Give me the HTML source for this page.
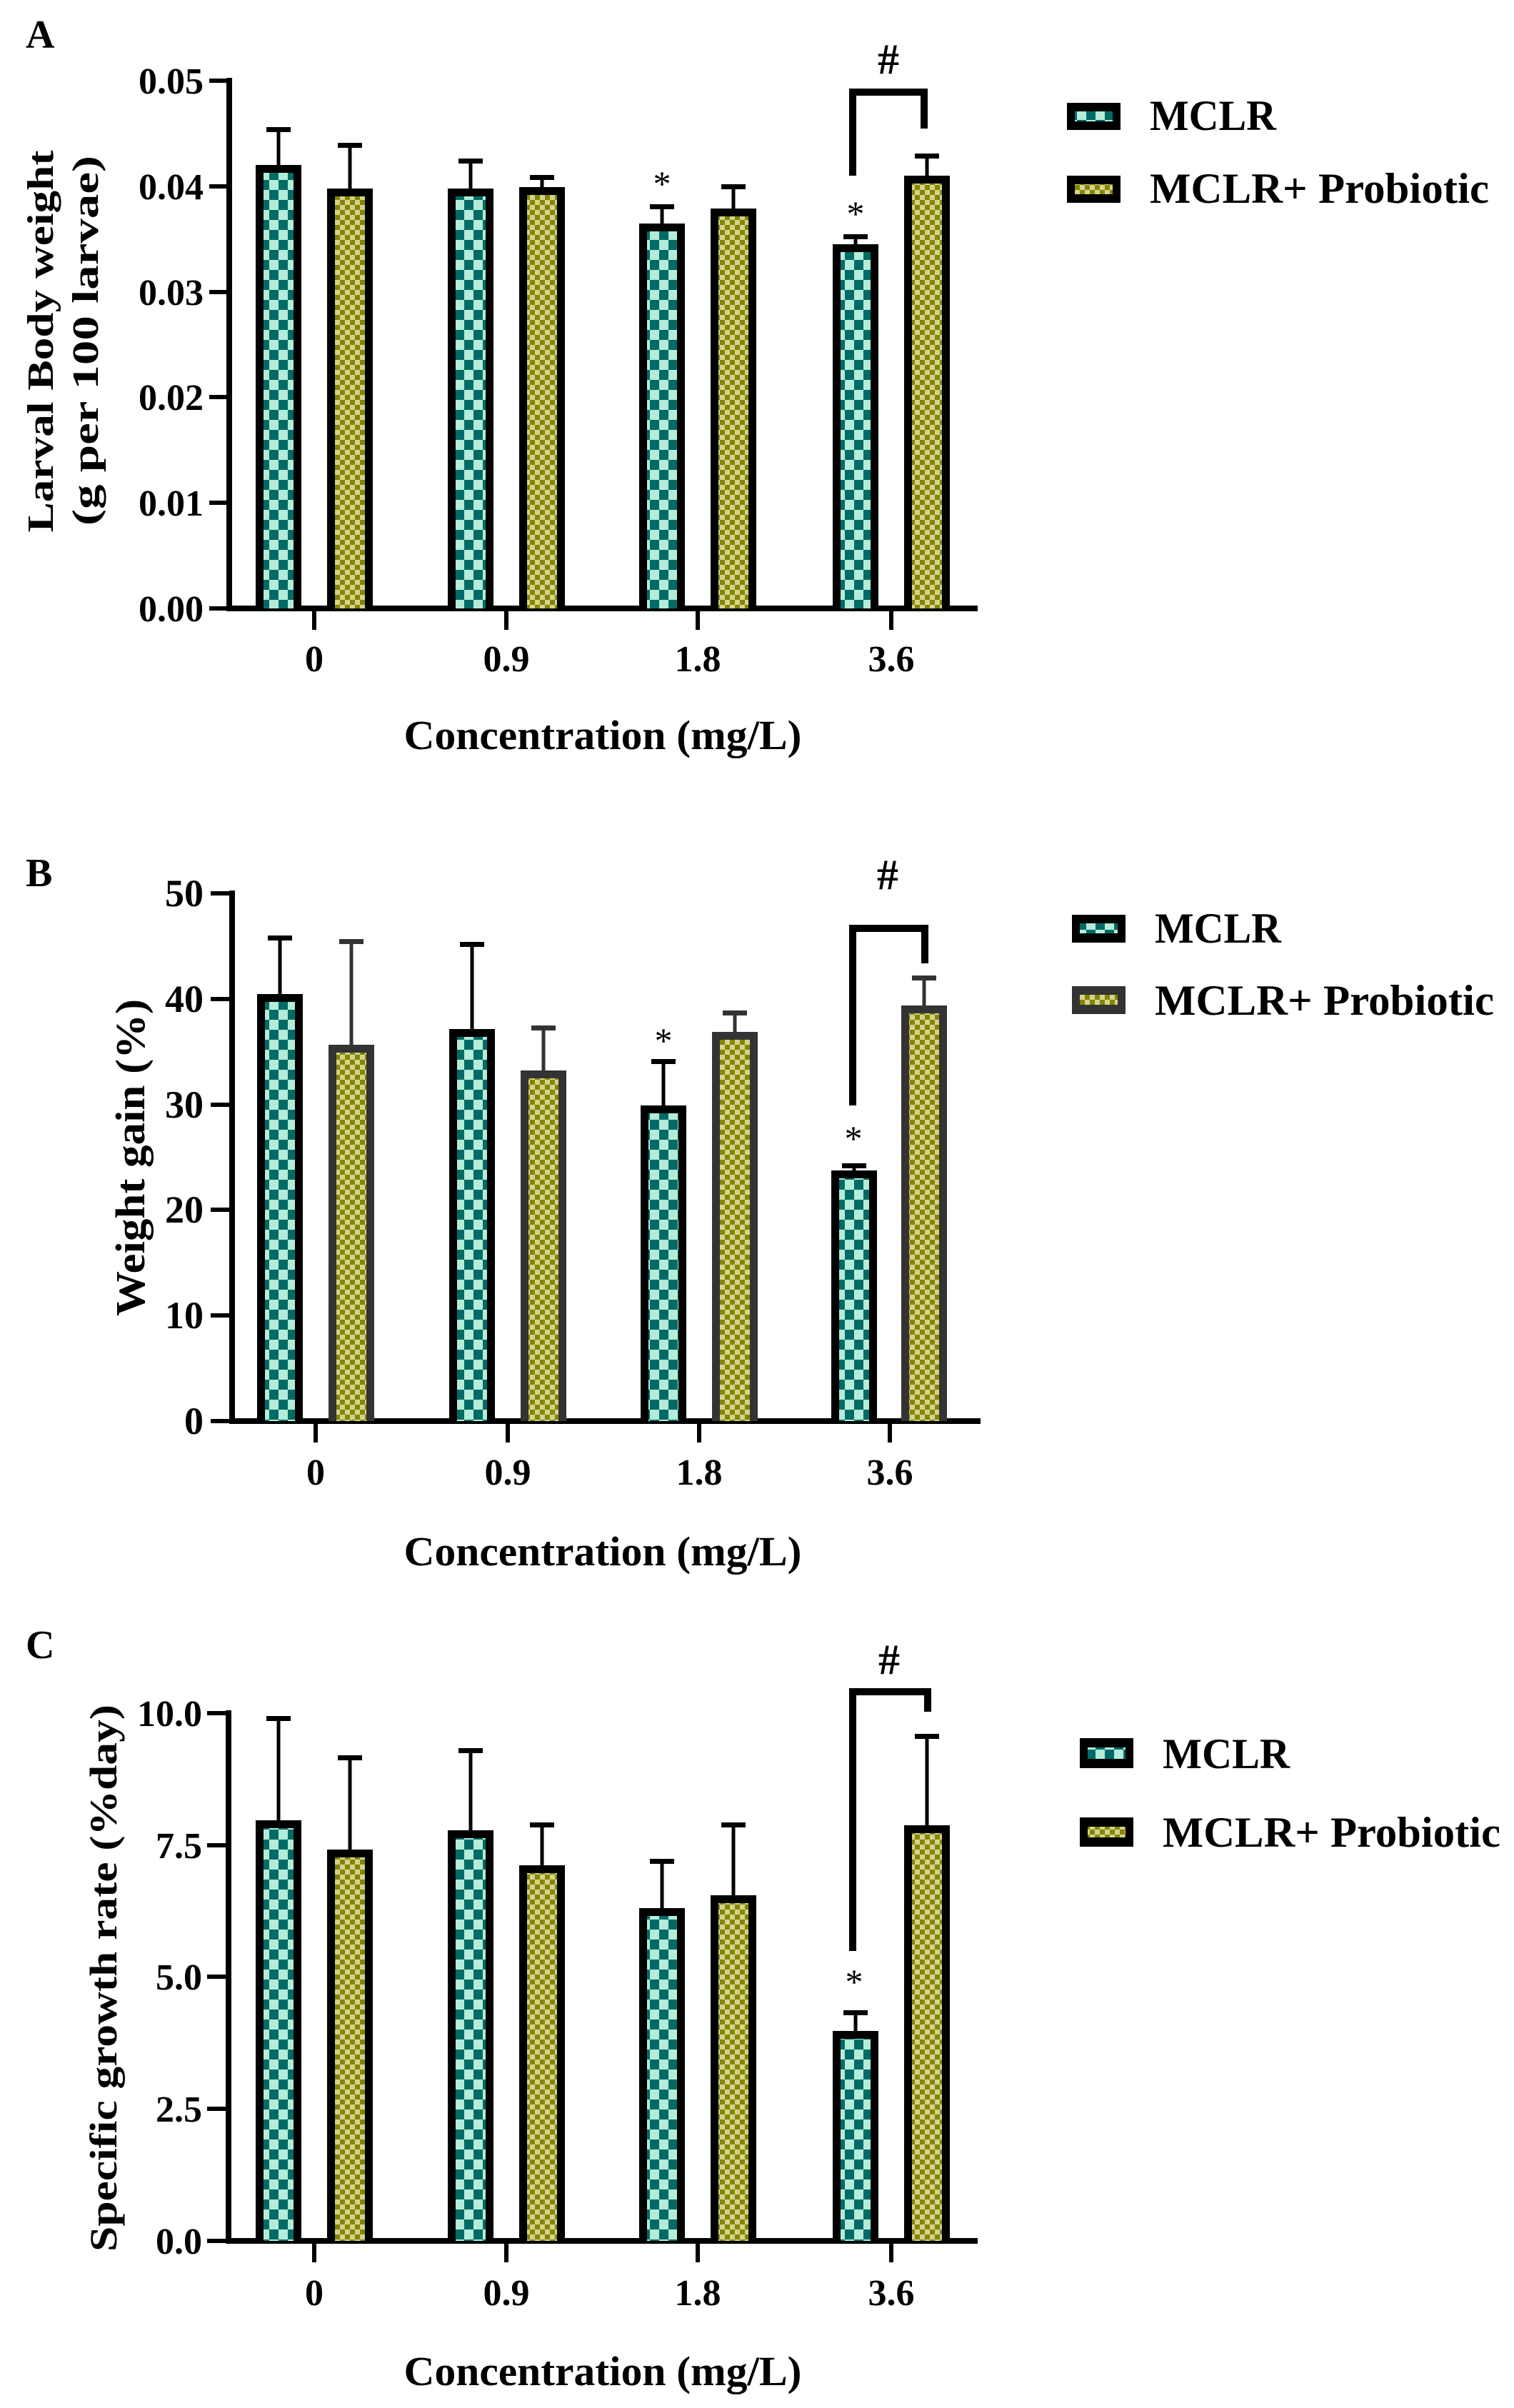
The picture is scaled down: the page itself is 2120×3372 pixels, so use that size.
<!DOCTYPE html>
<html><head><meta charset="utf-8"><style>html,body{margin:0;padding:0;background:#fff}svg{display:block}</style></head>
<body>
<svg xmlns="http://www.w3.org/2000/svg" width="2120" height="3372" viewBox="0 0 2120 3372" font-family="'Liberation Serif', serif" font-weight="bold">
<defs>
<pattern id="pm" patternUnits="userSpaceOnUse" width="26" height="28"><rect width="26" height="28" fill="#b4ebd9"/><rect width="13" height="14" fill="#006b66"/><rect x="13" y="14" width="13" height="14" fill="#006b66"/></pattern>
<pattern id="pp" patternUnits="userSpaceOnUse" width="14" height="14"><rect width="14" height="14" fill="#d3d38f"/><rect width="7" height="7" fill="#858500"/><rect x="7" y="7" width="7" height="7" fill="#858500"/></pattern>
</defs>
<rect width="2120" height="3372" fill="#fff"/>

<!-- ================= PANEL A ================= -->
<text x="36" y="67" font-size="56">A</text>
<g stroke="#000" stroke-width="8" fill="none">
<line x1="321" y1="109" x2="321" y2="856"/>
<line x1="317" y1="852" x2="1369" y2="852"/>
</g>
<g stroke="#000" stroke-width="6">
<line x1="293" y1="852" x2="321" y2="852"/><line x1="293" y1="704" x2="321" y2="704"/><line x1="293" y1="556" x2="321" y2="556"/><line x1="293" y1="409" x2="321" y2="409"/><line x1="293" y1="261" x2="321" y2="261"/><line x1="293" y1="113" x2="321" y2="113"/>
<line x1="440" y1="852" x2="440" y2="882"/><line x1="709" y1="852" x2="709" y2="882"/><line x1="977" y1="852" x2="977" y2="882"/><line x1="1248" y1="852" x2="1248" y2="882"/>
</g>
<g font-size="52" text-anchor="end">
<text x="285" y="870">0.00</text><text x="285" y="722">0.01</text><text x="285" y="574">0.02</text><text x="285" y="427">0.03</text><text x="285" y="279">0.04</text><text x="285" y="131">0.05</text>
</g>
<g font-size="52" text-anchor="middle">
<text x="440" y="940">0</text><text x="709" y="940">0.9</text><text x="977" y="940">1.8</text><text x="1248" y="940">3.6</text>
</g>
<text x="844" y="1049" font-size="58" text-anchor="middle" textLength="557" lengthAdjust="spacingAndGlyphs">Concentration (mg/L)</text>
<text transform="translate(74,478) rotate(-90)" font-size="52" text-anchor="middle" textLength="535" lengthAdjust="spacingAndGlyphs">Larval Body weight</text>
<text transform="translate(137,477) rotate(-90)" font-size="52" text-anchor="middle" textLength="518" lengthAdjust="spacingAndGlyphs">(g per 100 larvae)</text>
<!-- bars A -->
<g>
<rect x="358" y="231" width="64" height="621" fill="#000"/><rect x="369" y="242" width="42" height="610" fill="url(#pm)"/>
<rect x="627" y="264" width="64" height="588" fill="#000"/><rect x="638" y="275" width="42" height="577" fill="url(#pm)"/>
<rect x="895" y="313" width="64" height="539" fill="#000"/><rect x="906" y="324" width="42" height="528" fill="url(#pm)"/>
<rect x="1166" y="342" width="64" height="510" fill="#000"/><rect x="1177" y="353" width="42" height="499" fill="url(#pm)"/>
<rect x="458" y="264" width="64" height="588" fill="#000"/><rect x="469" y="275" width="42" height="577" fill="url(#pp)"/>
<rect x="727" y="262" width="64" height="590" fill="#000"/><rect x="738" y="273" width="42" height="579" fill="url(#pp)"/>
<rect x="995" y="292" width="64" height="560" fill="#000"/><rect x="1006" y="303" width="42" height="549" fill="url(#pp)"/>
<rect x="1266" y="246" width="64" height="606" fill="#000"/><rect x="1277" y="257" width="42" height="595" fill="url(#pp)"/>
</g>
<g stroke="#000" stroke-width="5">
<line x1="390" y1="181" x2="390" y2="231"/><line x1="659" y1="225" x2="659" y2="264"/><line x1="927" y1="289" x2="927" y2="313"/><line x1="1198" y1="331" x2="1198" y2="342"/>
<line x1="490" y1="203" x2="490" y2="264"/><line x1="759" y1="248" x2="759" y2="262"/><line x1="1027" y1="261" x2="1027" y2="292"/><line x1="1298" y1="218" x2="1298" y2="246"/>
</g>
<g fill="#000">
<rect x="373" y="178" width="34" height="7"/><rect x="642" y="222" width="34" height="7"/><rect x="910" y="286" width="34" height="7"/><rect x="1181" y="328" width="34" height="7"/>
<rect x="473" y="200" width="34" height="7"/><rect x="742" y="245" width="34" height="7"/><rect x="1010" y="258" width="34" height="7"/><rect x="1281" y="215" width="34" height="7"/>
</g>
<path d="M1194 246 V129 H1294 V180" stroke="#000" stroke-width="10" fill="none"/>
<text x="1244" y="103" font-size="60" text-anchor="middle">#</text>
<g font-size="50" font-weight="normal" text-anchor="middle"><text x="927" y="274">*</text><text x="1198" y="316">*</text></g>
<!-- legend A -->
<rect x="1494" y="144" width="75" height="38" fill="#000"/><rect x="1505" y="156" width="53" height="14" fill="url(#pm)"/>
<rect x="1494" y="246" width="75" height="38" fill="#000"/><rect x="1505" y="258" width="53" height="14" fill="url(#pp)"/>
<g font-size="60"><text x="1610" y="182" textLength="177" lengthAdjust="spacingAndGlyphs">MCLR</text><text x="1610" y="284" textLength="475" lengthAdjust="spacingAndGlyphs">MCLR+ Probiotic</text></g>

<!-- ================= PANEL B ================= -->
<text x="36" y="1241" font-size="56">B</text>
<g stroke="#000" stroke-width="8" fill="none">
<line x1="325" y1="1247" x2="325" y2="1994"/>
<line x1="321" y1="1990" x2="1373" y2="1990"/>
</g>
<g stroke="#000" stroke-width="6">
<line x1="295" y1="1990" x2="325" y2="1990"/><line x1="295" y1="1842" x2="325" y2="1842"/><line x1="295" y1="1694" x2="325" y2="1694"/><line x1="295" y1="1547" x2="325" y2="1547"/><line x1="295" y1="1399" x2="325" y2="1399"/><line x1="295" y1="1251" x2="325" y2="1251"/>
<line x1="442" y1="1990" x2="442" y2="2020"/><line x1="711" y1="1990" x2="711" y2="2020"/><line x1="979" y1="1990" x2="979" y2="2020"/><line x1="1246" y1="1990" x2="1246" y2="2020"/>
</g>
<g font-size="54" text-anchor="end">
<text x="285" y="2008">0</text><text x="285" y="1860">10</text><text x="285" y="1712">20</text><text x="285" y="1565">30</text><text x="285" y="1417">40</text><text x="285" y="1269">50</text>
</g>
<g font-size="52" text-anchor="middle">
<text x="442" y="2079">0</text><text x="711" y="2079">0.9</text><text x="979" y="2079">1.8</text><text x="1246" y="2079">3.6</text>
</g>
<text x="844" y="2192" font-size="58" text-anchor="middle" textLength="557" lengthAdjust="spacingAndGlyphs">Concentration (mg/L)</text>
<text transform="translate(202,1621) rotate(-90)" font-size="58" text-anchor="middle" textLength="444" lengthAdjust="spacingAndGlyphs">Weight gain (%)</text>
<g>
<rect x="360" y="1392" width="64" height="598" fill="#000"/><rect x="371" y="1403" width="42" height="587" fill="url(#pm)"/>
<rect x="629" y="1441" width="64" height="549" fill="#000"/><rect x="640" y="1452" width="42" height="538" fill="url(#pm)"/>
<rect x="897" y="1548" width="64" height="442" fill="#000"/><rect x="908" y="1559" width="42" height="431" fill="url(#pm)"/>
<rect x="1164" y="1639" width="64" height="351" fill="#000"/><rect x="1175" y="1650" width="42" height="340" fill="url(#pm)"/>
<rect x="460" y="1463" width="64" height="527" fill="#333"/><rect x="471" y="1474" width="42" height="516" fill="url(#pp)"/>
<rect x="729" y="1499" width="64" height="491" fill="#333"/><rect x="740" y="1510" width="42" height="480" fill="url(#pp)"/>
<rect x="997" y="1445" width="64" height="545" fill="#333"/><rect x="1008" y="1456" width="42" height="534" fill="url(#pp)"/>
<rect x="1262" y="1408" width="64" height="582" fill="#333"/><rect x="1273" y="1419" width="42" height="571" fill="url(#pp)"/>
</g>
<g stroke="#000" stroke-width="5">
<line x1="392" y1="1313" x2="392" y2="1392"/><line x1="661" y1="1322" x2="661" y2="1441"/><line x1="929" y1="1486" x2="929" y2="1548"/><line x1="1196" y1="1632" x2="1196" y2="1639"/>
</g>
<g stroke="#333" stroke-width="5">
<line x1="492" y1="1318" x2="492" y2="1463"/><line x1="761" y1="1439" x2="761" y2="1499"/><line x1="1029" y1="1418" x2="1029" y2="1445"/><line x1="1294" y1="1369" x2="1294" y2="1408"/>
</g>
<g fill="#000">
<rect x="375" y="1310" width="34" height="7"/><rect x="644" y="1319" width="34" height="7"/><rect x="912" y="1483" width="34" height="7"/><rect x="1179" y="1629" width="34" height="7"/>
</g>
<g fill="#333">
<rect x="475" y="1315" width="34" height="7"/><rect x="744" y="1436" width="34" height="7"/><rect x="1012" y="1415" width="34" height="7"/><rect x="1277" y="1366" width="34" height="7"/>
</g>
<path d="M1194 1548 V1300 H1295 V1349" stroke="#000" stroke-width="10" fill="none"/>
<text x="1243" y="1245" font-size="60" text-anchor="middle">#</text>
<g font-size="50" font-weight="normal" text-anchor="middle"><text x="929" y="1474">*</text><text x="1195" y="1611">*</text></g>
<rect x="1501" y="1281" width="75" height="39" fill="#000"/><rect x="1512" y="1293" width="53" height="14" fill="url(#pm)"/>
<rect x="1501" y="1381" width="75" height="39" fill="#333"/><rect x="1512" y="1393" width="53" height="14" fill="url(#pp)"/>
<g font-size="60"><text x="1617" y="1320" textLength="177" lengthAdjust="spacingAndGlyphs">MCLR</text><text x="1617" y="1421" textLength="475" lengthAdjust="spacingAndGlyphs">MCLR+ Probiotic</text></g>

<!-- ================= PANEL C ================= -->
<text x="36" y="2322" font-size="56">C</text>
<g stroke="#000" stroke-width="8" fill="none">
<line x1="320" y1="2395" x2="320" y2="3142"/>
<line x1="316" y1="3138" x2="1369" y2="3138"/>
</g>
<g stroke="#000" stroke-width="6">
<line x1="290" y1="3138" x2="320" y2="3138"/><line x1="290" y1="2953" x2="320" y2="2953"/><line x1="290" y1="2768" x2="320" y2="2768"/><line x1="290" y1="2584" x2="320" y2="2584"/><line x1="290" y1="2399" x2="320" y2="2399"/>
<line x1="440" y1="3138" x2="440" y2="3168"/><line x1="709" y1="3138" x2="709" y2="3168"/><line x1="977" y1="3138" x2="977" y2="3168"/><line x1="1248" y1="3138" x2="1248" y2="3168"/>
</g>
<g font-size="52" text-anchor="end">
<text x="283" y="3156">0.0</text><text x="283" y="2971">2.5</text><text x="283" y="2786">5.0</text><text x="283" y="2602">7.5</text><text x="283" y="2417">10.0</text>
</g>
<g font-size="52" text-anchor="middle">
<text x="440" y="3228">0</text><text x="709" y="3228">0.9</text><text x="977" y="3228">1.8</text><text x="1248" y="3228">3.6</text>
</g>
<text x="844" y="3340" font-size="58" text-anchor="middle" textLength="557" lengthAdjust="spacingAndGlyphs">Concentration (mg/L)</text>
<text transform="translate(163,2770) rotate(-90)" font-size="54" text-anchor="middle" textLength="766" lengthAdjust="spacingAndGlyphs">Specific growth rate (%day)</text>
<g>
<rect x="358" y="2549" width="64" height="589" fill="#000"/><rect x="369" y="2560" width="42" height="578" fill="url(#pm)"/>
<rect x="627" y="2563" width="64" height="575" fill="#000"/><rect x="638" y="2574" width="42" height="564" fill="url(#pm)"/>
<rect x="895" y="2672" width="64" height="466" fill="#000"/><rect x="906" y="2683" width="42" height="455" fill="url(#pm)"/>
<rect x="1166" y="2844" width="64" height="294" fill="#000"/><rect x="1177" y="2855" width="42" height="283" fill="url(#pm)"/>
<rect x="458" y="2590" width="64" height="548" fill="#000"/><rect x="469" y="2601" width="42" height="537" fill="url(#pp)"/>
<rect x="727" y="2612" width="64" height="526" fill="#000"/><rect x="738" y="2623" width="42" height="515" fill="url(#pp)"/>
<rect x="995" y="2654" width="64" height="484" fill="#000"/><rect x="1006" y="2665" width="42" height="473" fill="url(#pp)"/>
<rect x="1266" y="2556" width="64" height="582" fill="#000"/><rect x="1277" y="2567" width="42" height="571" fill="url(#pp)"/>
</g>
<g stroke="#000" stroke-width="5">
<line x1="390" y1="2406" x2="390" y2="2549"/><line x1="659" y1="2451" x2="659" y2="2563"/><line x1="927" y1="2606" x2="927" y2="2672"/><line x1="1198" y1="2818" x2="1198" y2="2844"/>
<line x1="490" y1="2461" x2="490" y2="2590"/><line x1="759" y1="2555" x2="759" y2="2612"/><line x1="1027" y1="2555" x2="1027" y2="2654"/><line x1="1298" y1="2431" x2="1298" y2="2556"/>
</g>
<g fill="#000">
<rect x="373" y="2403" width="34" height="7"/><rect x="642" y="2448" width="34" height="7"/><rect x="910" y="2603" width="34" height="7"/><rect x="1181" y="2815" width="34" height="7"/>
<rect x="473" y="2458" width="34" height="7"/><rect x="742" y="2552" width="34" height="7"/><rect x="1010" y="2552" width="34" height="7"/><rect x="1281" y="2428" width="34" height="7"/>
</g>
<path d="M1194 2732 V2369 H1299 V2397" stroke="#000" stroke-width="10" fill="none"/>
<text x="1245" y="2344" font-size="60" text-anchor="middle">#</text>
<g font-size="50" font-weight="normal" text-anchor="middle"><text x="1196" y="2792">*</text></g>
<rect x="1512" y="2434" width="75" height="42" fill="#000"/><rect x="1523" y="2447" width="53" height="16" fill="url(#pm)"/>
<rect x="1512" y="2545" width="75" height="41" fill="#000"/><rect x="1523" y="2558" width="53" height="15" fill="url(#pp)"/>
<g font-size="60"><text x="1628" y="2476" textLength="178" lengthAdjust="spacingAndGlyphs">MCLR</text><text x="1628" y="2586" textLength="473" lengthAdjust="spacingAndGlyphs">MCLR+ Probiotic</text></g>
</svg>
</body></html>
